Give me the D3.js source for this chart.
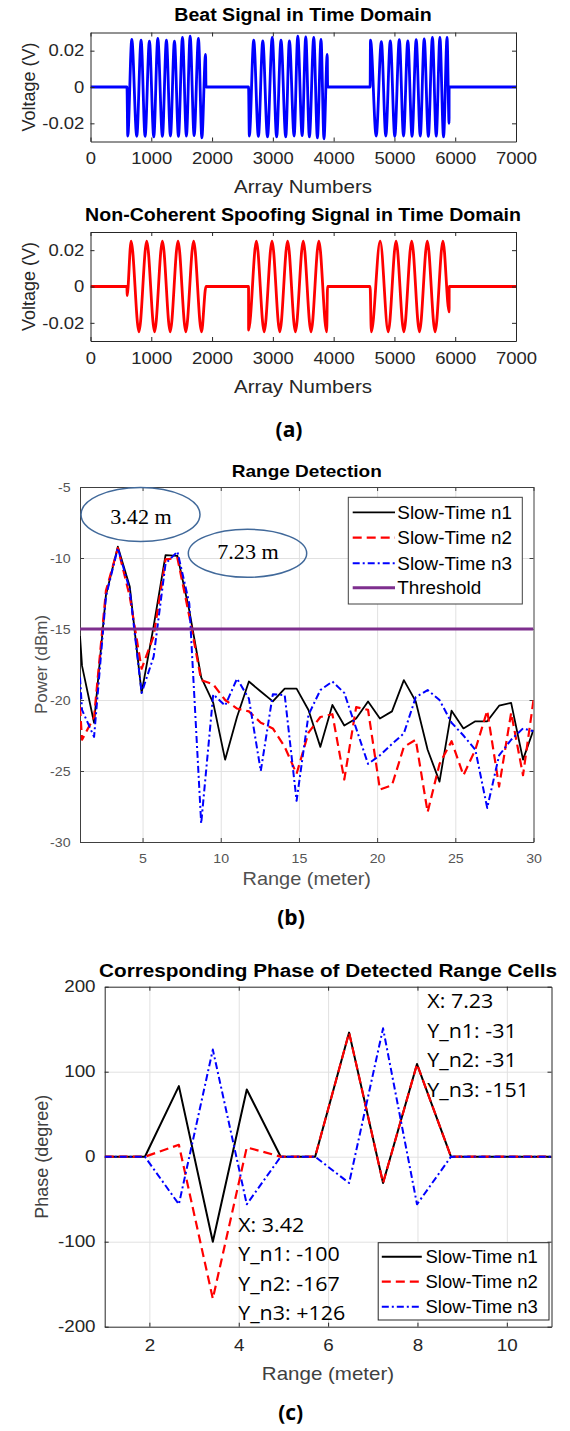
<!DOCTYPE html>
<html>
<head>
<meta charset="UTF-8">
<script src="https://cdn.jsdelivr.net/npm/d3@7"></script>
<style>
  body { margin: 0; background: #fff; }
  svg { display: block; }
</style>
</head>
<body>
<svg id="fig" width="570" height="1431"></svg>
<script>
// ---------- (a) time domain: extrema ----------
var beatIdx = [0, 600, 613, 679, 761, 832, 898, 969, 1041, 1107, 1183, 1249, 1315, 1381, 1447, 1513, 1578, 1639, 1705, 1776, 1832, 1893, 1900,
  2600, 2613, 2685, 2762, 2834, 2912, 2990, 3062, 3134, 3212, 3272, 3350, 3410, 3482, 3541, 3601, 3673, 3733, 3792, 3841, 3895, 3901,
  4600, 4606, 4700, 4785, 4858, 4932, 5006, 5080, 5150, 5220, 5290, 5358, 5425, 5490, 5558, 5625, 5688, 5748, 5808, 5866, 5899, 5900, 7000];
var beatVolt = [0, 0, -0.027, 0.0262, -0.0272, 0.0258, -0.0272, 0.0253, -0.0275, 0.0267, -0.0272, 0.0258, -0.027, 0.0253, -0.0272, 0.0273, -0.027, 0.028, -0.0268, 0.0267, -0.028, 0.018, 0,
  0, -0.027, 0.0258, -0.0272, 0.0254, -0.0275, 0.0273, -0.0275, 0.0258, -0.0275, 0.0254, -0.027, 0.028, -0.0268, 0.0276, -0.0275, 0.0273, -0.028, 0.0262, -0.0285, 0.018, 0,
  0, 0.0258, -0.027, 0.025, -0.027, 0.0254, -0.0272, 0.026, -0.027, 0.0254, -0.0272, 0.026, -0.027, 0.0265, -0.0272, 0.0273, -0.027, 0.0273, -0.0275, 0.0273, -0.02, 0, 0];

var spoofIdx = [0, 600, 602, 668, 797, 925, 1054, 1183, 1311, 1440, 1568, 1697, 1826, 1900,
  2600, 2601, 2729, 2857, 2986, 3114, 3243, 3371, 3500, 3628, 3757, 3885, 3900,
  4600, 4620, 4765, 4898, 5027, 5155, 5284, 5412, 5541, 5669, 5798, 5900, 5901, 7000];
var spoofVolt = [0, 0, -0.005, 0.025, -0.025, 0.025, -0.025, 0.025, -0.025, 0.025, -0.025, 0.025, -0.025, 0,
  0, -0.024, 0.025, -0.025, 0.025, -0.025, 0.025, -0.025, 0.025, -0.025, 0.025, -0.025, 0,
  0, -0.025, 0.025, -0.025, 0.025, -0.025, 0.025, -0.025, 0.025, -0.025, 0.025, -0.014, 0, 0];

var arrayTicks = [0, 1000, 2000, 3000, 4000, 5000, 6000, 7000];
var voltTicks = [-0.02, 0, 0.02];

// ---------- (b) range detection ----------
var rangeB = [1.0, 1.13, 1.9, 2.66, 3.42, 4.18, 4.94, 5.71, 6.47, 7.23, 7.99, 8.75, 9.52, 10.28, 11.04, 11.8, 12.56, 13.33, 14.09, 14.85,
  15.61, 16.37, 17.14, 17.9, 18.66, 19.42, 20.18, 20.95, 21.71, 22.47, 23.23, 23.99, 24.76, 25.52, 26.28, 27.04, 27.8, 28.57, 29.33, 30.0];
var powerN1 = [-15.5, -17.6, -21.6, -12.6, -9.2, -12.0, -19.5, -14.8, -9.8, -9.85, -13.7, -18.4, -20.2, -24.2, -21.2, -18.7, -19.4, -20.1, -19.2, -19.2,
  -20.7, -23.3, -20.35, -21.8, -21.3, -20.1, -21.3, -20.8, -18.6, -20.1, -23.5, -25.75, -20.75, -22.0, -21.5, -21.5, -20.4, -20.2, -24.2, -22.1];
var powerN2 = [-20.5, -22.8, -21.2, -12.3, -9.3, -12.7, -17.8, -15.5, -10.1, -10.0, -14.1, -18.6, -18.9, -20.0, -20.6, -20.8, -21.6, -22.0, -23.3, -25.2,
  -22.3, -21.2, -21.0, -25.6, -20.5, -20.7, -26.3, -26.0, -23.3, -22.8, -27.9, -24.5, -22.9, -25.3, -23.5, -20.75, -26.1, -20.9, -25.3, -20.0];
var powerN3 = [-18.4, -20.7, -22.6, -12.7, -9.3, -12.25, -19.5, -16.95, -10.4, -9.55, -13.2, -28.7, -19.6, -20.4, -18.5, -19.9, -25.0, -19.6, -19.65, -27.1,
  -21.05, -19.3, -18.7, -19.5, -22.0, -24.5, -23.9, -23.1, -22.35, -19.8, -19.3, -20.0, -21.6, -22.5, -23.5, -27.6, -23.9, -22.8, -22.0, -22.2];
var threshold = -15;
var rangeTicksB = [5, 10, 15, 20, 25, 30];
var powerTicks = [-30, -25, -20, -15, -10, -5];
var peakNotes = ["3.42 m", "7.23 m"];

// ---------- (c) phase of detected range cells ----------
var rangeC = [1.0, 1.9, 2.66, 3.42, 4.18, 4.94, 5.71, 6.47, 7.23, 7.99, 8.75, 9.51, 10.27, 11.0];
var phaseN1 = [0, 0, 83, -100, 79, 0, 0, 146, -31, 109, 0, 0, 0, 0];
var phaseN2 = [0, 0, 14, -167, 11, 0, 0, 146, -31, 109, 0, 0, 0, 0];
var phaseN3 = [0, 0, -56, 126, -56, 0, 0, -31, 151, -56, 0, 0, 0, 0];
var rangeTicksC = [2, 4, 6, 8, 10];
var phaseTicks = [-200, -100, 0, 100, 200];
var noteHigh = ["X: 7.23", "Y_n1: -31", "Y_n2: -31", "Y_n3: -151"];
var noteLow = ["X: 3.42", "Y_n1: -100", "Y_n2: -167", "Y_n3: +126"];

var seriesNames = ["Slow-Time n1", "Slow-Time n2", "Slow-Time n3", "Threshold"];

// ---------- helpers ----------
var SANS = "'Liberation Sans', Arial, Helvetica, sans-serif";
var SERIF = "'Liberation Serif', 'Times New Roman', serif";
var CALI = "'Open Sans', 'Noto Sans', sans-serif";
var svg = d3.select("#fig");
svg.append("rect").attr("width", 570).attr("height", 1431).attr("fill", "#fff");

function txt(g, x, y, s, o) {
  o = o || {};
  var tf = "translate(" + x + "," + y + ")";
  if (o.rot) tf += " rotate(" + o.rot + ")";
  tf += " scale(" + (o.sx || 1) + ",1)";
  return g.append("text").attr("transform", tf)
    .attr("text-anchor", o.anchor || "middle")
    .attr("font-family", o.font || SANS)
    .attr("font-size", o.size || 16)
    .attr("font-weight", o.bold ? "bold" : "normal")
    .attr("fill", o.color || "#262626")
    .text(s);
}

// matlab style box: inward ticks on all four sides, optional grid
function frame(x, y, st) {
  var g = svg.append("g");
  var X0 = x.range()[0], X1 = x.range()[1], Yb = y.range()[0], Yt = y.range()[1];
  if (st.gridX) {
    g.append("g").attr("class", "grid").attr("transform", "translate(0," + Yb + ")")
      .call(d3.axisBottom(x).tickValues(st.gridX).tickSize(-(Yb - Yt)).tickFormat(""));
    g.append("g").attr("class", "grid").attr("transform", "translate(" + X0 + ",0)")
      .call(d3.axisLeft(y).tickValues(st.gridY).tickSize(-(X1 - X0)).tickFormat(""));
    g.selectAll(".grid .domain").remove();
    g.selectAll(".grid line").attr("stroke", "#e1e1e1").attr("stroke-width", 1);
  }
  var fmt = function(d) { return String(d); };
  var none = function() { return ""; };
  var axes = [
    g.append("g").attr("transform", "translate(0," + Yb + ")")
      .call(d3.axisBottom(x).tickValues(st.xTicks).tickSize(-4).tickSizeOuter(0).tickPadding(st.xPad).tickFormat(fmt)),
    g.append("g").attr("transform", "translate(0," + Yt + ")")
      .call(d3.axisTop(x).tickValues(st.xTicks).tickSize(-4).tickSizeOuter(0).tickFormat(none)),
    g.append("g").attr("transform", "translate(" + X0 + ",0)")
      .call(d3.axisLeft(y).tickValues(st.yTicks).tickSize(-4).tickSizeOuter(0).tickPadding(st.yPad).tickFormat(fmt)),
    g.append("g").attr("transform", "translate(" + X1 + ",0)")
      .call(d3.axisRight(y).tickValues(st.yTicks).tickSize(-4).tickSizeOuter(0).tickFormat(none))
  ];
  axes.forEach(function(a) {
    a.attr("font-family", SANS).attr("font-size", st.size);
    a.select(".domain").attr("stroke", st.axisColor || "#262626");
    a.selectAll(".tick line").attr("stroke", st.axisColor || "#262626");
    a.selectAll(".tick text").attr("fill", st.color).attr("transform", "scale(" + st.sx + ",1)");
  });
  return g;
}

function clip(id, x, y) {
  svg.append("clipPath").attr("id", id).append("rect")
    .attr("x", x.range()[0]).attr("y", y.range()[1])
    .attr("width", x.range()[1] - x.range()[0]).attr("height", y.range()[0] - y.range()[1]);
  return svg.append("g").attr("clip-path", "url(#" + id + ")");
}

// ---------- (a) ----------
var xA = d3.scaleLinear().domain([0, 7000]).range([90.5, 516]);
var yA1 = d3.scaleLinear().domain([-0.03, 0.03]).range([141.5, 32.5]);
var yA2 = d3.scaleLinear().domain([-0.03, 0.03]).range([341, 232]);
var smooth = function(ys) {
  return d3.line().x(function(d) { return xA(d[0]); }).y(function(d) { return ys(d[1]); }).curve(d3.curveMonotoneX);
};
[[yA1, beatIdx, beatVolt, "#0000ff", "Beat Signal in Time Domain", 20.5, 193],
 [yA2, spoofIdx, spoofVolt, "#ff0000", "Non-Coherent Spoofing Signal in Time Domain", 220.5, 393]].forEach(function(p, i) {
  var ys = p[0];
  var pg = clip("clipA" + i, xA, ys);
  pg.append("path").datum(d3.zip(p[1], p[2])).attr("d", smooth(ys))
    .attr("fill", "none").attr("stroke", p[3]).attr("stroke-width", 2.8).attr("stroke-linejoin", "round");
  frame(xA, ys, { xTicks: arrayTicks, yTicks: voltTicks, xPad: 11, yPad: 5.5, size: 16.5, sx: 1.12, color: "#262626" });
  txt(svg, 303, p[5], p[4], { size: 17.5, bold: true, sx: 1.12, color: "#000" });
  txt(svg, 303, p[6], "Array Numbers", { size: 18, sx: 1.14, color: "#262626" });
  txt(svg, 35, (ys.range()[0] + ys.range()[1]) / 2, "Voltage (V)", { size: 18, rot: -90, color: "#262626" });
});
txt(svg, 289, 437, "(a)", { size: 21, bold: true, font: CALI, color: "#000" });

// ---------- (b) ----------
var xB = d3.scaleLinear().domain([1, 30]).range([80, 533.5]);
var yB = d3.scaleLinear().domain([-30, -5]).range([842, 487]);
frame(xB, yB, { xTicks: rangeTicksB, yTicks: powerTicks, gridX: [5, 10, 15, 20, 25], gridY: [-25, -20, -15, -10],
  xPad: 11, yPad: 9, size: 13.5, sx: 1.05, color: "#555", axisColor: "#404040" });
var gB = clip("clipB", xB, yB);
var lineB = function(vals) {
  return d3.line().x(function(d) { return xB(d[0]); }).y(function(d) { return yB(d[1]); })(d3.zip(rangeB, vals));
};
var stylesB = [
  { stroke: "#000", width: 1.8, dash: null },
  { stroke: "#ff0000", width: 2.2, dash: "9,5" },
  { stroke: "#0000ff", width: 2.0, dash: "7,3,2,3" },
  { stroke: "#7e2f8e", width: 3, dash: null }
];
[powerN1, powerN2, powerN3].forEach(function(vals, i) {
  gB.append("path").attr("d", lineB(vals)).attr("fill", "none")
    .attr("stroke", stylesB[i].stroke).attr("stroke-width", stylesB[i].width)
    .attr("stroke-dasharray", stylesB[i].dash).attr("stroke-linejoin", "round");
});
gB.append("line").attr("x1", xB(1)).attr("x2", xB(30)).attr("y1", yB(threshold)).attr("y2", yB(threshold))
  .attr("stroke", stylesB[3].stroke).attr("stroke-width", stylesB[3].width);

// note ellipses
var noteB = svg.append("g");
[[140.5, 514.5, 59.5, 27, 524], [247.5, 553.3, 59.2, 24, 559]].forEach(function(e, i) {
  noteB.append("ellipse").attr("cx", e[0]).attr("cy", e[1]).attr("rx", e[2]).attr("ry", e[3])
    .attr("fill", "none").attr("stroke", "#41699a").attr("stroke-width", 1.5);
  txt(noteB, e[0] + 0.5, e[4], peakNotes[i], { size: 20.5, font: SERIF, sx: 1.08, color: "#000" });
});

// legend (b)
var legB = svg.append("g");
legB.append("rect").attr("x", 348.3).attr("y", 497.3).attr("width", 174).attr("height", 106.7)
  .attr("fill", "#fff").attr("stroke", "#404040").attr("stroke-width", 1);
[512.3, 537.7, 563.3, 587.7].forEach(function(ry, i) {
  legB.append("line").attr("x1", 352.7).attr("x2", 395).attr("y1", ry).attr("y2", ry)
    .attr("stroke", stylesB[i].stroke).attr("stroke-width", stylesB[i].width).attr("stroke-dasharray", stylesB[i].dash);
  txt(legB, 397.3, ry + 6.5, seriesNames[i], { size: 18.5, anchor: "start", sx: 1.02, color: "#000" });
});

txt(svg, 306.75, 477.3, "Range Detection", { size: 17, bold: true, sx: 1.12, color: "#000" });
txt(svg, 306.75, 885, "Range (meter)", { size: 17.5, sx: 1.14, color: "#505050" });
txt(svg, 46.5, 664.5, "Power (dBm)", { size: 17, rot: -90, color: "#505050" });
txt(svg, 291, 925, "(b)", { size: 21, bold: true, font: CALI, color: "#000" });

// ---------- (c) ----------
var xC = d3.scaleLinear().domain([1, 11]).range([104.7, 551.5]);
var yC = d3.scaleLinear().domain([-200, 200]).range([1326.7, 986.7]);
frame(xC, yC, { xTicks: rangeTicksC, yTicks: phaseTicks, gridX: rangeTicksC, gridY: [-100, 0, 100],
  xPad: 13, yPad: 8, size: 16.5, sx: 1.14, color: "#262626", axisColor: "#262626" });
var gC = clip("clipC", xC, yC);
var lineC = function(vals) {
  return d3.line().x(function(d) { return xC(d[0]); }).y(function(d) { return yC(d[1]); })(d3.zip(rangeC, vals));
};
var stylesC = [
  { stroke: "#000", width: 2, dash: null },
  { stroke: "#ff0000", width: 2.2, dash: "9,5" },
  { stroke: "#0000ff", width: 2.0, dash: "7,3,2,3" }
];
[phaseN1, phaseN2, phaseN3].forEach(function(vals, i) {
  gC.append("path").attr("d", lineC(vals)).attr("fill", "none")
    .attr("stroke", stylesC[i].stroke).attr("stroke-width", stylesC[i].width)
    .attr("stroke-dasharray", stylesC[i].dash).attr("stroke-linejoin", "round");
});

// data tip notes
var notes = svg.append("g");
noteHigh.forEach(function(s, i) {
  txt(notes, 427.3, 1008.3 + i * 29.5, s, { size: 19.5, anchor: "start", font: CALI, sx: 1.1, color: "#000" });
});
noteLow.forEach(function(s, i) {
  txt(notes, 238.2, 1231.7 + i * 29.5, s, { size: 19.5, anchor: "start", font: CALI, sx: 1.1, color: "#000" });
});

// legend (c)
var legC = svg.append("g");
legC.append("rect").attr("x", 378.2).attr("y", 1242.7).attr("width", 170.8).attr("height", 77.3)
  .attr("fill", "#fff").attr("stroke", "#262626").attr("stroke-width", 1);
[1256.7, 1281.7, 1306.7].forEach(function(ry, i) {
  legC.append("line").attr("x1", 381.8).attr("x2", 421.8).attr("y1", ry).attr("y2", ry)
    .attr("stroke", stylesC[i].stroke).attr("stroke-width", stylesC[i].width).attr("stroke-dasharray", stylesC[i].dash);
  txt(legC, 425.5, ry + 6.5, seriesNames[i], { size: 18.5, anchor: "start", sx: 1.0, color: "#000" });
});

txt(svg, 328, 976.7, "Corresponding Phase of Detected Range Cells", { size: 18.5, bold: true, sx: 1.12, color: "#000" });
txt(svg, 328, 1380, "Range (meter)", { size: 18, sx: 1.14, color: "#404040" });
txt(svg, 48, 1156.7, "Phase (degree)", { size: 18, rot: -90, color: "#404040" });
txt(svg, 290.7, 1420, "(c)", { size: 21, bold: true, font: CALI, color: "#000" });
</script>
</body>
</html>
